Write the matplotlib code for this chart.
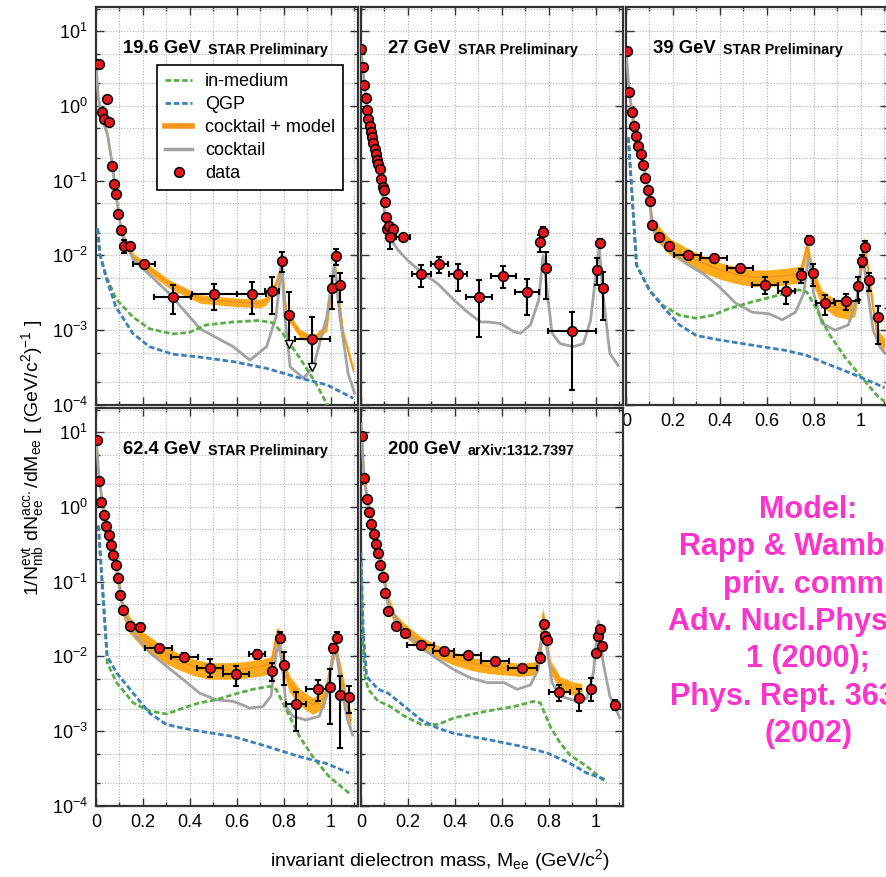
import numpy as np
import matplotlib
matplotlib.use('Agg')
from matplotlib import pyplot as plt
from matplotlib.lines import Line2D
from matplotlib.ticker import MultipleLocator, LogLocator, FuncFormatter, NullFormatter

plt.rcParams['font.family'] = ['Liberation Sans', 'DejaVu Sans']
plt.rcParams['mathtext.default'] = 'regular'

# ---- data (y values are given as log10) ----
# 19.6 GeV
p1_x = [0.006, 0.011, 0.024, 0.035, 0.045, 0.055, 0.067, 0.075, 0.085, 0.095, 0.105, 0.119, 0.143,
        0.206, 0.326, 0.504, 0.662, 0.750, 0.790, 0.823, 0.921, 1.006, 1.021, 1.037]
p1_lg = [0.56, 0.56, -0.08, -0.18, 0.09, -0.22, -0.81, -1.04, -1.18, -1.44, -1.66, -1.88, -1.88,
         -2.12, -2.56, -2.52, -2.52, -2.48, -2.07, -2.80, -3.12, -2.43, -2.01, -2.40]
p1_xerr = [0] * 13 + [0.047, 0.078, 0.097, 0.06, 0.03, 0, 0, 0.076, 0, 0, 0]
p1_dlo = [0] * 11 + [0.09, 0.05, 0.05, 0.22, 0.21, 0.26, 0.30, 0.15, 0.38, 0.37, 0.28, 0.12, 0.22]
p1_dhi = [0] * 11 + [0.08, 0.05, 0.04, 0.16, 0.14, 0.16, 0.19, 0.11, 0.31, 0.30, 0.16, 0.10, 0.16]
p1_limits = [19, 20]

p1_orange_x = [0.0, 0.01, 0.03, 0.05, 0.07, 0.09, 0.11, 0.158, 0.312, 0.443, 0.584, 0.698, 0.726, 0.766,
               0.790, 0.811, 0.868, 0.925, 0.982, 1.017, 1.052, 1.095]
p1_orange_lg = [0.56, 0.1, -0.2, -0.4, -0.8, -1.3, -1.72, -2.02, -2.38, -2.58, -2.62, -2.64, -2.6, -2.38,
                -2.11, -2.78, -3.04, -3.13, -2.95, -2.11, -3.04, -3.53]
p1_grey_x = [0.0, 0.01, 0.03, 0.05, 0.07, 0.09, 0.11, 0.158, 0.312, 0.443, 0.584, 0.655, 0.726, 0.766, 0.790,
             0.804, 0.826, 0.883, 0.925, 0.982, 1.014, 1.038, 1.073, 1.1]
p1_grey_lg = [0.56, 0.1, -0.2, -0.4, -0.8, -1.3, -1.72, -2.05, -2.51, -2.98, -3.22, -3.4, -3.22, -2.82, -2.12,
              -2.82, -3.49, -3.64, -3.49, -2.82, -2.12, -2.82, -3.58, -3.84]
p1_green_x = [0.007, 0.016, 0.045, 0.085, 0.156, 0.227, 0.326, 0.397, 0.468, 0.581, 0.695, 0.752, 0.794,
              0.865, 0.936, 0.978, 1.0]
p1_green_lg = [-1.64, -1.98, -2.29, -2.58, -2.82, -2.98, -3.05, -3.03, -2.93, -2.89, -2.87, -2.9, -3.04,
               -3.36, -3.71, -3.96, -4.1]
p1_blue_x = [0.007, 0.016, 0.045, 0.085, 0.156, 0.227, 0.326, 0.443, 0.584, 0.726, 0.868, 0.982, 1.095]
p1_blue_lg = [-1.64, -1.98, -2.32, -2.69, -3.04, -3.22, -3.32, -3.36, -3.42, -3.51, -3.64, -3.73, -3.91]

# 27 GeV
p2_x = [0.0, 0.007, 0.014, 0.02, 0.025, 0.031, 0.037, 0.041, 0.046, 0.052, 0.058, 0.063, 0.069, 0.073,
        0.079, 0.086, 0.092, 0.097, 0.103, 0.108, 0.111, 0.12, 0.137, 0.124, 0.179, 0.256, 0.334, 0.414,
        0.503, 0.606, 0.707, 0.763, 0.776, 0.787, 0.897, 1.004, 1.017, 1.032]
p2_lg = [0.76, 0.52, 0.28, 0.10, -0.06, -0.18, -0.27, -0.35, -0.42, -0.50, -0.58, -0.65, -0.72, -0.78,
         -0.84, -0.98, -1.08, -1.12, -1.28, -1.48, -1.64, -1.61, -1.64, -1.76, -1.76, -2.25, -2.11, -2.25,
         -2.56, -2.27, -2.49, -1.82, -1.68, -2.17, -3.01, -2.19, -1.83, -2.43]
p2_xerr = [0] * 24 + [0.031, 0.041, 0.036, 0.039, 0.056, 0.054, 0.052, 0, 0, 0, 0.103, 0, 0, 0]
p2_dlo = [0] * 23 + [0.15, 0.03, 0.17, 0.13, 0.22, 0.53, 0.17, 0.31, 0.14, 0.05, 0.41, 0.79, 0.21, 0.03, 0.44]
p2_dhi = [0] * 23 + [0.09, 0.03, 0.12, 0.09, 0.14, 0.23, 0.13, 0.17, 0.09, 0.06, 0.21, 0.25, 0.15, 0.05, 0.21]
p2_grey_x = [0.0, 0.02, 0.05, 0.08, 0.11, 0.158, 0.2, 0.256, 0.327, 0.397, 0.454, 0.51, 0.538, 0.594, 0.651,
             0.679, 0.721, 0.756, 0.775, 0.792, 0.813, 0.848, 0.904, 0.946, 0.977, 1.003, 1.014, 1.028,
             1.059, 1.094]
p2_grey_lg = [0.76, 0.1, -0.45, -0.86, -1.7, -1.93, -2.07, -2.22, -2.38, -2.6, -2.76, -2.89, -2.89, -2.91,
              -3.02, -3.04, -2.93, -2.6, -2.0, -2.47, -3.04, -3.18, -3.22, -3.18, -2.87, -2.16, -1.89, -2.47,
              -3.31, -3.47]

# 39 GeV
p3_x = [0.003, 0.013, 0.024, 0.032, 0.041, 0.052, 0.062, 0.072, 0.082, 0.092, 0.101, 0.111, 0.141, 0.185,
        0.263, 0.373, 0.485, 0.592, 0.683, 0.745, 0.779, 0.794, 0.849, 0.937, 0.987, 1.004, 1.018, 1.035, 1.073]
p3_lg = [0.74, 0.19, -0.08, -0.27, -0.40, -0.53, -0.65, -0.79, -0.96, -1.12, -1.27, -1.59, -1.75, -1.87,
         -1.99, -2.04, -2.17, -2.40, -2.47, -2.26, -1.80, -2.23, -2.64, -2.61, -2.41, -2.07, -1.89, -2.33, -2.82]
p3_xerr = [0] * 14 + [0.057, 0.056, 0.057, 0.055, 0.035, 0, 0, 0, 0.039, 0.053, 0, 0, 0, 0, 0]
p3_dlo = [0] * 14 + [0.04, 0.04, 0.04, 0.12, 0.18, 0.11, 0.05, 0.18, 0.16, 0.12, 0.19, 0.09, 0.07, 0.14, 0.36]
p3_dhi = [0] * 14 + [0.04, 0.04, 0.04, 0.11, 0.11, 0.08, 0.06, 0.12, 0.11, 0.10, 0.12, 0.07, 0.08, 0.09, 0.15]
p3_orange_x = [0.0, 0.013, 0.03, 0.05, 0.07, 0.09, 0.115, 0.186, 0.256, 0.327, 0.397, 0.468, 0.538, 0.608,
               0.679, 0.742, 0.770, 0.799, 0.834, 0.89, 0.946, 0.975, 0.996, 1.014, 1.038, 1.059, 1.08, 1.1]
p3_orange_lg = [0.75, 0.2, -0.2, -0.48, -0.72, -1.05, -1.62, -1.87, -1.99, -2.10, -2.19, -2.25, -2.29, -2.29,
                -2.27, -2.24, -1.87, -2.29, -2.56, -2.69, -2.73, -2.69, -2.29, -1.84, -2.38, -2.87, -3.13, -3.2]
p3_grey_x = [0.0, 0.013, 0.03, 0.05, 0.07, 0.09, 0.115, 0.186, 0.256, 0.327, 0.397, 0.468, 0.538, 0.608,
             0.665, 0.721, 0.756, 0.777, 0.799, 0.834, 0.89, 0.946, 0.982, 1.007, 1.028, 1.052, 1.08, 1.1]
p3_grey_lg = [0.75, 0.2, -0.2, -0.48, -0.72, -1.05, -1.65, -1.93, -2.11, -2.24, -2.42, -2.64, -2.76, -2.78,
              -2.86, -2.76, -2.51, -2.0, -2.51, -2.91, -3.0, -2.93, -2.6, -1.98, -2.47, -3.0, -3.22, -3.3]
p3_green_x = [0.01, 0.045, 0.101, 0.158, 0.228, 0.299, 0.369, 0.439, 0.538, 0.651, 0.735, 0.77, 0.806, 0.862,
              0.932, 0.989, 1.073, 1.1]
p3_green_lg = [-0.42, -2.13, -2.47, -2.67, -2.8, -2.84, -2.8, -2.71, -2.62, -2.53, -2.46, -2.49, -2.69, -3.04,
               -3.36, -3.58, -3.89, -3.95]
p3_blue_x = [0.01, 0.045, 0.101, 0.158, 0.228, 0.299, 0.397, 0.538, 0.679, 0.763, 0.848, 0.961, 1.073, 1.1]
p3_blue_lg = [-0.42, -2.13, -2.47, -2.69, -2.93, -3.07, -3.13, -3.2, -3.27, -3.33, -3.44, -3.58, -3.73, -3.77]

# 62.4 GeV
p4_x = [0.003, 0.013, 0.023, 0.034, 0.044, 0.054, 0.064, 0.074, 0.083, 0.093, 0.103, 0.115, 0.143, 0.188,
        0.266, 0.375, 0.485, 0.597, 0.686, 0.750, 0.785, 0.799, 0.851, 0.945, 0.994, 1.010, 1.025, 1.040, 1.075]
p4_lg = [0.90, 0.34, 0.07, -0.11, -0.25, -0.38, -0.51, -0.65, -0.78, -0.95, -1.18, -1.38, -1.59, -1.61,
         -1.89, -2.01, -2.15, -2.24, -1.97, -2.19, -1.76, -2.12, -2.64, -2.44, -2.41, -1.89, -1.76, -2.52, -2.54]
p4_xerr = [0] * 14 + [0.057, 0.057, 0.055, 0.055, 0.034, 0, 0, 0, 0.041, 0.05, 0, 0, 0, 0, 0]
p4_dlo = [0] * 12 + [0.03, 0.03, 0.04, 0.05, 0.12, 0.16, 0.07, 0.14, 0.06, 0.26, 0.36, 0.16, 0.50, 0.06, 0.05, 0.71, 0.22]
p4_dhi = [0] * 12 + [0.03, 0.03, 0.04, 0.05, 0.11, 0.11, 0.06, 0.10, 0.09, 0.18, 0.17, 0.13, 0.24, 0.05, 0.09, 0.26, 0.14]
p4_orange_x = [0.0, 0.013, 0.03, 0.05, 0.07, 0.09, 0.115, 0.144, 0.201, 0.272, 0.342, 0.413, 0.484, 0.554,
               0.625, 0.71, 0.745, 0.767, 0.778, 0.795, 0.823, 0.866, 0.922, 0.972, 1.0, 1.018, 1.042, 1.071, 1.085]
p4_orange_lg = [0.95, 0.38, 0.0, -0.3, -0.58, -0.88, -1.36, -1.57, -1.77, -1.93, -2.04, -2.13, -2.18, -2.18,
                -2.17, -2.13, -2.1, -1.73, -1.71, -2.09, -2.35, -2.53, -2.65, -2.56, -2.09, -1.86, -2.22, -2.67, -2.85]
p4_grey_x = [0.0, 0.013, 0.03, 0.05, 0.07, 0.09, 0.115, 0.158, 0.229, 0.3, 0.371, 0.441, 0.512, 0.583, 0.625,
             0.653, 0.71, 0.745, 0.767, 0.778, 0.792, 0.809, 0.837, 0.894, 0.95, 0.986, 1.007, 1.024, 1.042,
             1.071, 1.092]
p4_grey_lg = [0.95, 0.38, 0.0, -0.3, -0.58, -0.88, -1.38, -1.68, -1.95, -2.13, -2.31, -2.49, -2.58, -2.6, -2.65,
              -2.69, -2.67, -2.53, -1.95, -1.84, -2.1, -2.67, -2.8, -2.85, -2.8, -2.49, -2.0, -1.95, -2.4,
              -2.85, -3.05]
p4_green_x = [0.01, 0.031, 0.048, 0.088, 0.158, 0.229, 0.3, 0.371, 0.441, 0.512, 0.583, 0.667, 0.738, 0.767,
              0.809, 0.866, 0.922, 0.993, 1.078]
p4_green_lg = [-0.25, -1.24, -2.09, -2.35, -2.62, -2.73, -2.77, -2.69, -2.62, -2.58, -2.51, -2.44, -2.4, -2.44,
               -2.71, -3.07, -3.34, -3.61, -3.83]
p4_blue_x = [0.01, 0.031, 0.048, 0.088, 0.158, 0.229, 0.3, 0.371, 0.441, 0.583, 0.724, 0.866, 0.979, 1.078]
p4_blue_lg = [-0.25, -1.24, -2.0, -2.22, -2.49, -2.76, -2.91, -2.96, -3.0, -3.07, -3.2, -3.34, -3.43, -3.56]

# 200 GeV
p5_x = [0.003, 0.013, 0.024, 0.032, 0.041, 0.054, 0.063, 0.072, 0.080, 0.093, 0.103, 0.113, 0.148, 0.186,
        0.254, 0.352, 0.454, 0.569, 0.687, 0.762, 0.780, 0.783, 0.792, 0.844, 0.928, 0.980, 1.001, 1.010,
        1.017, 1.025, 1.083]
p5_lg = [0.95, 0.38, 0.11, -0.07, -0.23, -0.36, -0.49, -0.62, -0.78, -0.94, -1.15, -1.39, -1.59, -1.68,
         -1.85, -1.93, -1.98, -2.06, -2.16, -2.02, -1.56, -1.73, -1.78, -2.48, -2.56, -2.44, -1.95, -1.73,
         -1.63, -1.86, -2.65]
p5_xerr = [0] * 14 + [0.057, 0.044, 0.057, 0.06, 0.06, 0, 0, 0, 0, 0.046, 0, 0, 0, 0, 0, 0, 0.014]
p5_dlo = [0] * 14 + [0.03, 0.03, 0.03, 0.04, 0.05, 0.06, 0.03, 0.03, 0.03, 0.12, 0.17, 0.16, 0.02, 0.02, 0.02, 0.02, 0.06]
p5_dhi = [0] * 14 + [0.03, 0.03, 0.03, 0.04, 0.05, 0.06, 0.03, 0.03, 0.03, 0.10, 0.12, 0.15, 0.02, 0.02, 0.02, 0.02, 0.07]
p5_orange_x = [0.0, 0.013, 0.03, 0.059, 0.08, 0.1, 0.115, 0.144, 0.186, 0.256, 0.327, 0.397, 0.468, 0.538,
               0.608, 0.679, 0.742, 0.763, 0.775, 0.789, 0.806, 0.848, 0.904, 0.94]
p5_orange_lg = [1.18, 0.45, 0.05, -0.35, -0.65, -0.95, -1.24, -1.5, -1.64, -1.82, -1.93, -2.02, -2.09, -2.13,
                -2.15, -2.17, -2.15, -1.82, -1.42, -1.77, -2.13, -2.35, -2.42, -2.44]
p5_grey_x = [0.0, 0.013, 0.03, 0.059, 0.08, 0.1, 0.115, 0.186, 0.256, 0.327, 0.397, 0.468, 0.538, 0.608, 0.665,
             0.721, 0.754, 0.77, 0.78, 0.792, 0.813, 0.848, 0.918, 0.961, 0.989, 1.01, 1.031, 1.059, 1.101]
p5_grey_lg = [1.1, 0.4, 0.0, -0.4, -0.7, -1.0, -1.3, -1.68, -1.88, -2.04, -2.18, -2.29, -2.35, -2.35, -2.44,
              -2.38, -2.18, -1.77, -1.64, -1.91, -2.35, -2.53, -2.6, -2.56, -2.22, -1.53, -2.09, -2.53, -2.82]
p5_green_x = [0.0, 0.006, 0.017, 0.031, 0.073, 0.115, 0.186, 0.256, 0.327, 0.397, 0.538, 0.651, 0.735, 0.763,
              0.806, 0.848, 0.89, 0.961, 1.045]
p5_green_lg = [-0.79, -1.68, -2.27, -2.44, -2.6, -2.65, -2.8, -2.91, -2.91, -2.82, -2.73, -2.67, -2.6, -2.62,
               -2.94, -3.16, -3.32, -3.47, -3.69]
p5_blue_x = [0.0, 0.01, 0.024, 0.073, 0.115, 0.186, 0.256, 0.327, 0.397, 0.538, 0.679, 0.792, 0.89, 0.961, 1.045]
p5_blue_lg = [-0.61, -1.7, -2.27, -2.44, -2.49, -2.67, -2.85, -2.96, -3.03, -3.11, -3.2, -3.29, -3.43, -3.56, -3.65]

C_ORANGE = '#f7941d'
C_BAND = '#ffaa1a'
C_GREY = '#a3a3a3'
C_GREEN = '#5aae48'
C_BLUE = '#3d7ebf'
C_RED = '#e3171d'
C_MAGENTA = '#ff33cc'

W, H = 886, 877
fig = plt.figure(figsize=(W / 100, H / 100), dpi=100)


def make_axes(left, top, right, bottom):
    ax = fig.add_axes([left / W, 1 - bottom / H, (right - left) / W, (bottom - top) / H])
    ax.set_yscale('log')
    ax.set_xlim(0, 1.115)
    ax.set_ylim(1e-4, 21)
    ax.xaxis.set_major_locator(MultipleLocator(0.2))
    ax.xaxis.set_minor_locator(MultipleLocator(0.1))
    ax.xaxis.set_major_formatter(FuncFormatter(lambda v, p: '%g' % round(v, 2)))
    ax.yaxis.set_major_locator(LogLocator(base=10, numticks=10))
    ax.yaxis.set_minor_locator(LogLocator(base=10, subs=(2.0, 5.0), numticks=10))
    ax.yaxis.set_minor_formatter(NullFormatter())
    ax.grid(True, which='both', color='#b5b5b5', linestyle=(0, (1, 1.5)), linewidth=0.8)
    ax.set_axisbelow(True)
    ax.tick_params(which='both', direction='in', top=True, right=True, labelsize=13, width=1.0, color='#333333')
    ax.tick_params(which='major', length=6, pad=6)
    ax.tick_params(which='minor', length=3)
    for s in ax.spines.values():
        s.set_linewidth(1.6)
        s.set_color('#333333')
    return ax


def title(ax, big, small):
    t = ax.text(0.103, 0.884, big, transform=ax.transAxes, fontsize=13.3, fontweight='bold', va='baseline', zorder=6)
    ax.annotate(small, xy=(1, 0), xycoords=t, xytext=(5, 0), textcoords='offset points',
                fontsize=10.3, fontweight='bold', va='bottom', zorder=6)


def model(ax, ox, olg, band, gx, glg, grx=None, grlg=None, blx=None, bllg=None):
    if ox is not None:
        oy = 10 ** np.array(olg)
        ax.fill_between(ox, oy * (1 - band), oy * (1 + band), color=C_BAND, lw=0, zorder=2)
        ax.plot(ox, oy, color=C_ORANGE, lw=1.2, zorder=2.5)
    ax.plot(gx, 10 ** np.array(glg), color=C_GREY, lw=2, zorder=3)
    if grx is not None:
        ax.plot(grx, 10 ** np.array(grlg), color=C_GREEN, lw=2, ls=(0, (2, 1)), zorder=3)
        ax.plot(blx, 10 ** np.array(bllg), color=C_BLUE, lw=2, ls=(0, (2, 1)), zorder=3)


def data(ax, x, lg, xerr, dlo, dhi, limits=()):
    lg = np.array(lg)
    y = 10 ** lg
    ylo = y - 10 ** (lg - np.array(dlo))
    yhi = 10 ** (lg + np.array(dhi)) - y
    ax.errorbar(x, y, xerr=xerr, yerr=[ylo, yhi], fmt='none', ecolor='k', elinewidth=1.5,
                capsize=2.5, capthick=1.5, zorder=4)
    ax.plot(x, y, 'o', ms=7, mfc=C_RED, mec='k', mew=1.1, zorder=5)
    for i in limits:
        ax.plot(x[i], 10 ** (lg[i] - dlo[i]), marker='v', ms=6, mfc='white', mec='k', mew=1, zorder=5)


ax1 = make_axes(96, 7, 358, 405)
ax2 = make_axes(361, 7, 623, 405)
ax3 = make_axes(626, 7, 888, 405)
ax4 = make_axes(96, 408, 358, 806)
ax5 = make_axes(361, 408, 623, 806)

model(ax1, p1_orange_x, p1_orange_lg, 0.13, p1_grey_x, p1_grey_lg, p1_green_x, p1_green_lg, p1_blue_x, p1_blue_lg)
data(ax1, p1_x, p1_lg, p1_xerr, p1_dlo, p1_dhi, p1_limits)
title(ax1, '19.6 GeV', 'STAR Preliminary')

model(ax2, None, None, 0, p2_grey_x, p2_grey_lg)
data(ax2, p2_x, p2_lg, p2_xerr, p2_dlo, p2_dhi)
title(ax2, '27 GeV', 'STAR Preliminary')

model(ax3, p3_orange_x, p3_orange_lg, 0.25, p3_grey_x, p3_grey_lg, p3_green_x, p3_green_lg, p3_blue_x, p3_blue_lg)
data(ax3, p3_x, p3_lg, p3_xerr, p3_dlo, p3_dhi)
title(ax3, '39 GeV', 'STAR Preliminary')

model(ax4, p4_orange_x, p4_orange_lg, 0.25, p4_grey_x, p4_grey_lg, p4_green_x, p4_green_lg, p4_blue_x, p4_blue_lg)
data(ax4, p4_x, p4_lg, p4_xerr, p4_dlo, p4_dhi)
title(ax4, '62.4 GeV', 'STAR Preliminary')

model(ax5, p5_orange_x, p5_orange_lg, 0.2, p5_grey_x, p5_grey_lg, p5_green_x, p5_green_lg, p5_blue_x, p5_blue_lg)
data(ax5, p5_x, p5_lg, p5_xerr, p5_dlo, p5_dhi)
title(ax5, '200 GeV', 'arXiv:1312.7397')

for ax in (ax1, ax2):
    ax.tick_params(labelbottom=False)
for ax in (ax2, ax3, ax5):
    ax.tick_params(labelleft=False)

handles = [
    Line2D([], [], color=C_GREEN, lw=2, ls=(0, (2, 1))),
    Line2D([], [], color=C_BLUE, lw=2, ls=(0, (2, 1))),
    Line2D([], [], color=C_ORANGE, lw=4),
    Line2D([], [], color=C_GREY, lw=2.5),
    Line2D([], [], ls='none', marker='o', ms=7, mfc=C_RED, mec='k', mew=1.1),
]
leg = ax1.legend(handles, ['in-medium', 'QGP', 'cocktail + model', 'cocktail', 'data'],
                 loc='upper right', bbox_to_anchor=(0.943, 0.854), borderaxespad=0,
                 fontsize=13, handlelength=1.5, handletextpad=0.7, labelspacing=0.33,
                 fancybox=False, framealpha=1, edgecolor='k', borderpad=0.45)
leg.get_frame().set_linewidth(1.2)
leg.set_zorder(7)

fig.text(33 / W, 1 - 458 / H, r'1/N$_{mb}^{evt}$ dN$_{ee}^{acc.}$/dM$_{ee}$ [ (GeV/c$^2$)$^{-1}$ ]',
         rotation=90, ha='center', va='center', fontsize=14)
fig.text(440 / W, 1 - 860 / H, r'invariant dielectron mass, M$_{ee}$ (GeV/c$^2$)',
         ha='center', va='center', fontsize=14)

fig.text(808 / W, 1 - 622 / H,
         'Model:\nRapp & Wambach\npriv. comm.\nAdv. Nucl.Phys. 25,\n1 (2000);\nPhys. Rept. 363, 85\n(2002)',
         ha='center', va='center', multialignment='center', fontsize=22, fontweight='bold',
         color=C_MAGENTA, linespacing=1.32)

fig.savefig('out.png', dpi=100)
